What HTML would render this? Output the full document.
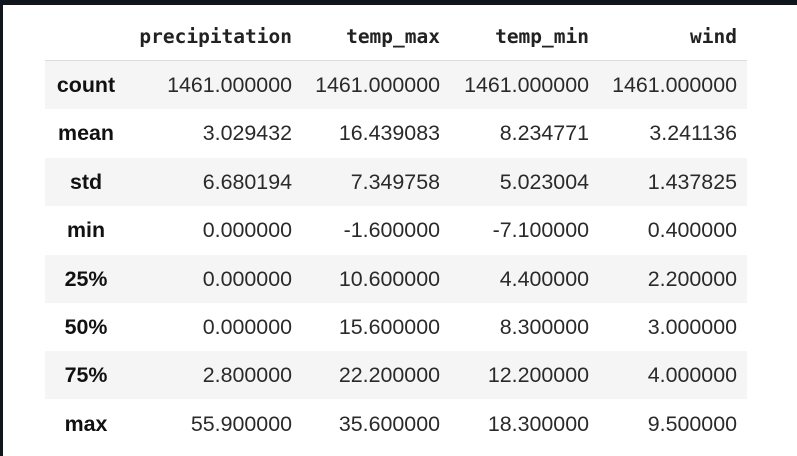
<!DOCTYPE html>
<html><head><meta charset="utf-8"><style>
body{margin:0;width:797px;height:456px;background:#fff;position:relative;overflow:hidden;font-family:"Liberation Sans",Arial,sans-serif;}
#top{position:absolute;left:0;top:0;width:797px;height:5px;background:#11151c}
#left{position:absolute;left:0;top:0;width:3px;height:456px;background:#11151c}
.row{position:absolute;left:45px;width:702px;height:48px;}
.g{background:#f5f5f5}
.c{position:absolute;top:0;line-height:48px;font-size:21.4px;color:#2a2a2a;text-align:right;width:180px}
.h{font-family:"DejaVu Sans Mono","Liberation Mono",monospace;font-weight:bold;font-size:19.5px;color:#222}
.i{position:absolute;top:0;line-height:48px;font-size:21.4px;font-weight:bold;color:#111;left:0;width:82px;text-align:center}
#hline{position:absolute;left:45px;top:60px;width:702px;height:1px;background:#ddd}
</style></head><body>
<div id="top"></div>
<div id="left"></div>
<div id="tbl"></div>
<div id="hline"></div>
<script>
const cols=["precipitation","temp_max","temp_min","wind"];
const idx=["count","mean","std","min","25%","50%","75%","max"];
const vals=[
["1461.000000","1461.000000","1461.000000","1461.000000"],
["3.029432","16.439083","8.234771","3.241136"],
["6.680194","7.349758","5.023004","1.437825"],
["0.000000","-1.600000","-7.100000","0.400000"],
["0.000000","10.600000","4.400000","2.200000"],
["0.000000","15.600000","8.300000","3.000000"],
["2.800000","22.200000","12.200000","4.000000"],
["55.900000","35.600000","18.300000","9.500000"]];
const rights=[292,440,589,737];
const t=document.getElementById('tbl');
const hr=document.createElement('div');hr.className='row';hr.style.top='13px';


cols.forEach((c,j)=>{const d=document.createElement('div');d.className='c h';d.textContent=c;d.style.left=(rights[j]-45-180)+'px';


hr.appendChild(d);});
t.appendChild(hr);
idx.forEach((r,i)=>{const row=document.createElement('div');row.className='row'+(i%2==0?' g':'');
row.style.top=(61+i*48.4)+'px';


const l=document.createElement('div');l.className='i';l.textContent=r;


row.appendChild(l);
vals[i].forEach((v,j)=>{const d=document.createElement('div');d.className='c';d.textContent=v;d.style.left=(rights[j]-45-180)+'px';


row.appendChild(d);});
t.appendChild(row);});
</script>
</body></html>
